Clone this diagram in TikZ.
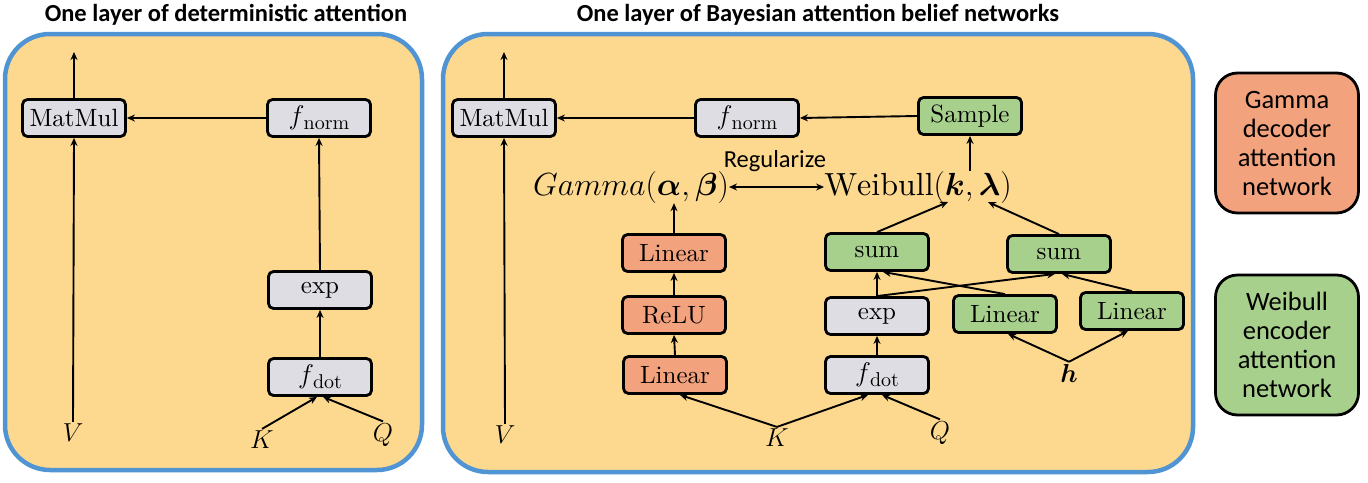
\documentclass[tikz,border=0pt]{standalone}
\usepackage{fix-cm}
\usepackage{amsmath}
\usepackage{fontspec}
\setmainfont{lmroman10-regular}[Extension=.otf, BoldFont=lmroman10-bold, ItalicFont=lmroman10-italic]
\newfontfamily\calibri{Carlito}
\usetikzlibrary{arrows.meta,calc}
\definecolor{panelfill}{HTML}{FDD990}
\definecolor{panelblue}{HTML}{5094D3}
\definecolor{greybox}{HTML}{DDDDE3}
\definecolor{orangebox}{HTML}{F3A27E}
\definecolor{greenbox}{HTML}{A8D08D}
\newcommand{\fsub}[1]{{\fontsize{27}{29}\selectfont$f$}\kern-1pt\raisebox{-5pt}{\fontsize{20}{22}\selectfont #1}}
\tikzset{
  panel/.style={draw=panelblue, line width=4.5pt, fill=panelfill, rounded corners=45pt},
  opbox/.style={draw=black, line width=2.8pt, rounded corners=5pt, minimum width=103pt, minimum height=37pt, inner sep=0pt, font=\fontsize{25}{29}\selectfont},
  greyop/.style={opbox, fill=greybox},
  orangeop/.style={opbox, fill=orangebox},
  greenop/.style={opbox, fill=greenbox},
  var/.style={inner sep=2pt, font=\fontsize{26}{30}\selectfont},
  dist/.style={inner sep=0pt, font=\fontsize{32}{36}\selectfont},
  arr/.style={line width=1.9pt, -{Stealth[length=8pt,width=7pt]}},
  darr/.style={line width=1.9pt, {Stealth[length=8pt,width=7pt]}-{Stealth[length=8pt,width=7pt]}},
  titletext/.style={font=\calibri\bfseries\fontsize{24.5}{28}\selectfont, inner sep=0pt},
  legend/.style={draw=black, line width=2.8pt, rounded corners=22pt, minimum width=143pt, minimum height=140pt, align=center, font=\calibri\fontsize{26.5}{29}\selectfont},
}
\begin{document}
\begin{tikzpicture}[x=1pt,y=-1pt]
\useasboundingbox (0,0) rectangle (1368,482);
% titles
\node[titletext] (t1) at (226,15) {One layer of deterministic attention};
\node[titletext] (t2) at (818,15) {One layer of Bayesian attention belief networks};
% panels
\draw[panel] (5,34) rectangle (422,470);
\draw[panel] (443,34) rectangle (1193,472);
% ---------- left panel ----------
\node[greyop] (mm1) at (74,118) {MatMul};
\node[greyop] (fn1) at (319,118) {\fsub{norm}};
\node[greyop] (ex1) at (320,290) {exp};
\node[greyop] (fd1) at (320,377) {\fsub{dot}};
\node[var] (V1) at (73,433) {$V$};
\node[var] (K1) at (262,440) {$K$};
\node[var] (Q1) at (383,435) {$Q$};
\coordinate (out1) at (74,52);
\draw[arr] (mm1.north) -- (out1);
\draw[arr] (fn1.west) -- (mm1.east);
\draw[arr] (ex1.north) -- (fn1.south);
\draw[arr] (fd1.north) -- (ex1.south);
\draw[arr] (V1.north) -- (mm1.south);
\draw[arr] (K1.north) -- ($(fd1.south)+(-3,0)$);
\draw[arr] (Q1.north) -- ($(fd1.south)+(3,0)$);
% ---------- right panel ----------
\node[greyop] (mm2) at (504,118) {MatMul};
\node[greyop] (fn2) at (747,118) {\fsub{norm}};
\node[greenop] (sam) at (970,116) {Sample};
\node[dist] (gam) at (631,187) {$Gamma(\boldsymbol{\alpha},\boldsymbol{\beta})$};
\node[dist] (wei) at (918,187) {$\mathrm{Weibull}(\boldsymbol{k},\boldsymbol{\lambda})$};
\node[font=\calibri\fontsize{24.5}{28}\selectfont, inner sep=0pt] (reg) at (775,161) {Regularize};
\node[orangeop] (lt) at (674,253) {Linear};
\node[orangeop] (relu) at (674,315) {ReLU};
\node[orangeop] (lb) at (675,375) {Linear};
\node[greenop] (sum1) at (877,252) {sum};
\node[greenop] (sum2) at (1059,254) {sum};
\node[greyop] (ex2) at (877,316) {exp};
\node[greyop] (fd2) at (877,375) {\fsub{dot}};
\node[greenop] (gl1) at (1005,314) {Linear};
\node[greenop] (gl2) at (1132,311) {Linear};
\node[var] (V2) at (505,435) {$V$};
\node[var] (K2) at (777,438) {$K$};
\node[var] (Q2) at (940,433) {$Q$};
\node[var] (h) at (1069,373) {$\boldsymbol{h}$};
\coordinate (out2) at (504,52);
\coordinate (wk) at (948,202);
\coordinate (wl) at (988,202);
\draw[arr] (mm2.north) -- (out2);
\draw[arr] (fn2.west) -- (mm2.east);
\draw[arr] (sam.west) -- (fn2.east);
\draw[arr] (sam.south |- wei.north) -- (sam.south);
\draw[darr] (gam.east) -- (wei.west);
\draw[arr] (V2.north) -- (mm2.south);
\draw[arr] (K2.north) -- ($(lb.south)+(5,0)$);
\draw[arr] (K2.north) -- ($(fd2.south)+(-9,0)$);
\draw[arr] (Q2.north) -- ($(fd2.south)+(5,0)$);
\draw[arr] (lb.north) -- (relu.south);
\draw[arr] (relu.north) -- (lt.south);
\draw[arr] (lt.north) -- (lt.north |- gam.south);
\draw[arr] (fd2.north) -- (ex2.south);
\draw[arr] (ex2.north) -- (sum1.south);
\draw[arr] (ex2.north) -- ($(sum2.south)+(-4,0)$);
\draw[arr] (gl1.north) -- ($(sum1.south)+(6,0)$);
\draw[arr] (gl2.north) -- ($(sum2.south)+(3,0)$);
\draw[arr] (h.north) -- ($(gl1.south)+(3,0)$);
\draw[arr] (h.north) -- ($(gl2.south)+(-4,0)$);
\draw[arr] (sum1.north) -- (wk);
\draw[arr] (sum2.north) -- (wl);
% ---------- legend ----------
\node[legend, fill=orangebox] (lg1) at (1287,143) {Gamma\\decoder\\attention\\network};
\node[legend, fill=greenbox] (lg2) at (1287,345) {Weibull\\encoder\\attention\\network};
\end{tikzpicture}
\end{document}
